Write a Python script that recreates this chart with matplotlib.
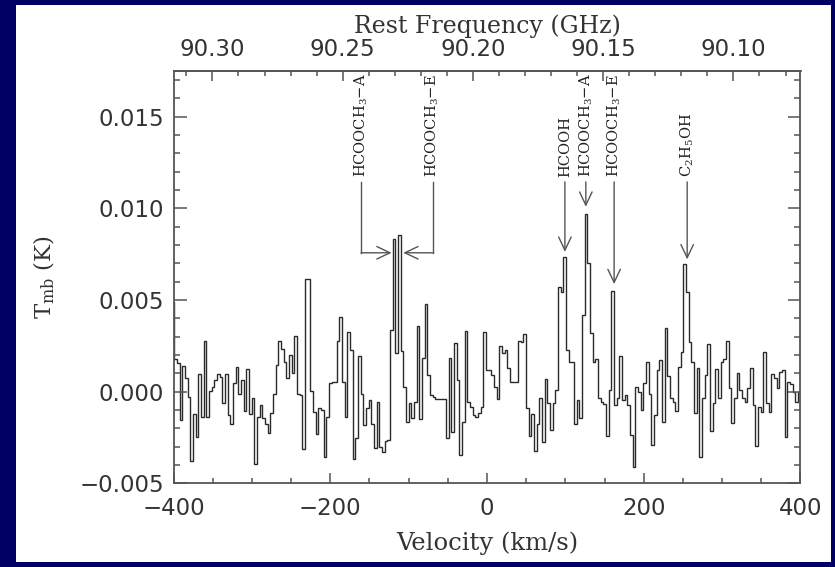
import numpy as np
import matplotlib
matplotlib.use("Agg")
import matplotlib.pyplot as plt
from matplotlib.patches import Rectangle
from matplotlib.ticker import MultipleLocator, FixedLocator, FuncFormatter

# ---- spectrum: main-beam temperature per channel (mK), uniform channels ----
v_start = -402.4      # left edge of first channel (km/s)
dv = 3.4              # channel width (km/s)
tmb_mK = [
    4.9,
    1.8, 1.55, -1.55, 1.4, 0.76, -0.27, -3.8, -1.2, -2.45, 0.95,
    -1.4, 2.76, -1.36, 0.04, 0.27, 0.64, 0.95, 0.8, -0.64, 0.95,
    -1.27, -1.78, 0.5, 1.36, -0.1, 0.64, -1.05, 1.24, -1.2, -0.36,
    -3.96, -1.4, -0.73, -1.45, -1.78, -2.27, -1.18, -0.1, 1.45, 2.76,
    2.33, 1.64, 0.73, 2.0, 1.0, 3.05, -0.1, -0.18, -3.13, 6.15,
    6.15, 0.04, -1.1, -2.33, -0.87, -1.0, -3.56, -1.4, 0.5,
    0.55, 0.55, 2.76, 4.1, 0.55, -1.36, 3.27, 2.27, -3.7, -2.55,
    1.95, -0.15, -1.8, -0.87, -0.45, -1.78, -3.05, -0.55, -3.0, -3.27,
    -2.7, -2.64, 3.36, 8.33, 2.09, 8.55, 2.2, 0.27, -1.64, -0.64,
    -1.42, -0.55, 3.6, -1.5, 1.85, 4.76, 0.9, -0.2, -0.3, -0.4,
    -0.4, -0.4, -0.4, -2.55, 1.82, -2.2, 2.64, 0.64, -3.45, -1.64,
    3.3, -0.58, -0.82, -1.27, -1.36, -1.18, -0.82, 3.27, 1.18,
    1.18, 0.9, 0.27, -0.4, 2.5, 2.1, 2.3, 1.27, 0.55, 0.55,
    0.55, 2.76, 2.7, 3.13, -0.87, -2.4, -1.24, -3.24, -1.78, -0.36,
    -2.73, 0.7, -0.64, -2.1, -0.64, 0.1, 5.73, 5.45, 7.36, 2.27,
    1.6, 1.6, -1.78, -0.45, -1.45, 4.2, 9.7, 7.0, 3.2, 1.6,
    1.8, -0.36, -0.58, -0.69, -2.4, 0.1, 5.5, -0.73, -0.36, 1.95,
    -0.45, -0.2, -0.73, -2.36, -4.1, 0.27, 0.0, -1.0, 0.45, 1.64,
    -0.1, -2.9, -1.27, 1.18, 1.73, -1.67, 3.45, 0.87, -0.36, -0.55,
    -1.05, 1.36, 2.18, 6.95, 5.42, 2.73, 1.6, -1.18, 1.3, -3.55,
    -0.33, 0.9, 2.58, -2.15, -0.6, 1.24, -0.36, 1.6, 1.8, 2.76,
    0.18, -1.73, -0.33, 1.0, 0.1, -0.36, -0.58, 0.18, 1.27, -0.73,
    -2.95, -0.82, -1.13, 2.15, -0.64, -1.13, 0.95, 0.73, 0.18, 1.09,
    1.18, -2.45, 0.55, 0.4, 0.0, -0.55, 0.0,
]

# ---- line identifications ----
pair_labels = [r"HCOOCH$_3$$-$A", r"HCOOCH$_3$$-$E"]
pair_text_v = [-160.8, -69.4]          # where the bracket legs stand (km/s)
pair_tip_v = [-121.7, -106.9]          # arrow tips (km/s)
pair_level_mK = 7.58

arrow_labels = ["HCOOH", r"HCOOCH$_3$$-$A", r"HCOOCH$_3$$-$E", r"C$_2$H$_5$OH"]
arrow_v = [99.4, 126.1, 162.2, 255.4]
arrow_tip_mK = [7.63, 10.09, 5.87, 7.22]
arrow_top_mK = 11.45
label_base_mK = 11.72

# ---- frequency axis ----
c_kms = 299792.458
f_rest = 90.1946      # GHz at v = 0
freq_major = [90.10, 90.15, 90.20, 90.25, 90.30]

plt.rcParams["mathtext.fontset"] = "dejavuserif"

ink = "#2a2a2a"
frame = "#555555"
txt = "#333333"

fig = plt.figure(figsize=(8.35, 5.67), dpi=100, facecolor="#000064")
W, H = 835, 567
panel = Rectangle((16 / W, (H - 562) / H), (831 - 16) / W, (562 - 5) / H,
                  transform=fig.transFigure, facecolor="white",
                  edgecolor="none", zorder=-10)
fig.add_artist(panel)

ax = fig.add_axes([173.5 / W, 1 - 483.3 / H, 627 / W, (483.3 - 71) / H])
ax.set_facecolor("none")

tmb = np.array(tmb_mK) * 1e-3
edges = v_start + dv * np.arange(len(tmb) + 1)
ax.stairs(tmb, edges, baseline=None, color=ink, lw=1.0)

ax.set_xlim(-400, 400)
ax.set_ylim(-0.005, 0.0175)

for s in ax.spines.values():
    s.set_color(frame)
    s.set_linewidth(1.3)

ax.xaxis.set_major_locator(MultipleLocator(200))
ax.xaxis.set_minor_locator(MultipleLocator(50))
ax.yaxis.set_major_locator(MultipleLocator(0.005))
ax.yaxis.set_minor_locator(MultipleLocator(0.001))
ax.tick_params(axis="both", which="both", direction="in", color=frame, width=1.1,
               top=False, right=True)
ax.tick_params(axis="x", which="major", length=7, pad=10)
ax.tick_params(axis="x", which="minor", length=3.5)
ax.tick_params(axis="y", which="major", length=9, pad=7)
ax.tick_params(axis="y", which="minor", length=4.5)

minus = lambda s: s.replace("-", "\u2212")
ax.xaxis.set_major_formatter(FuncFormatter(lambda v, p: minus(f"{v:.0f}")))
ax.yaxis.set_major_formatter(FuncFormatter(lambda v, p: minus(f"{v:.3f}")))
ax.tick_params(labelsize=16.5, labelcolor=txt)

ax.set_xlabel("Velocity (km/s)", fontfamily="DejaVu Serif", fontsize=17.5,
              color=txt, labelpad=8)
ax.set_ylabel(r"T$_{\rm mb}$ (K)", fontfamily="DejaVu Serif", fontsize=16.5,
              color=txt, labelpad=16)


def v2f(v):
    return f_rest * (1 - np.asarray(v) / c_kms)


def f2v(f):
    return c_kms * (1 - np.asarray(f) / f_rest)


sec = ax.secondary_xaxis("top", functions=(v2f, f2v))
sec.spines["top"].set_color(frame)
sec.spines["top"].set_linewidth(1.3)
sec.xaxis.set_major_locator(FixedLocator(freq_major))
sec.xaxis.set_minor_locator(MultipleLocator(0.01))
sec.xaxis.set_major_formatter(FuncFormatter(lambda f, p: f"{f:.2f}"))
sec.tick_params(axis="x", which="both", direction="in", color=frame, width=1.1,
                labelsize=16.5, labelcolor=txt)
sec.tick_params(axis="x", which="major", length=7, pad=7)
sec.tick_params(axis="x", which="minor", length=3.5)
sec.set_xlabel("Rest Frequency (GHz)", fontfamily="DejaVu Serif", fontsize=17,
               color=txt, labelpad=4)

# arrow style shared by all identifications
head = dict(arrowstyle="->,head_length=0.95,head_width=0.45", color=frame, lw=1.0,
            shrinkA=0, shrinkB=0, mutation_scale=10)
label_kw = dict(rotation=90, ha="center", va="bottom", fontsize=10.5,
                fontfamily="DejaVu Serif", color="#222222")

# bracket arrows for the blended methyl formate pair
for lab, vx, vt in zip(pair_labels, pair_text_v, pair_tip_v):
    ax.text(vx, label_base_mK * 1e-3, lab, **label_kw)
    ax.plot([vx, vx], [arrow_top_mK * 1e-3, pair_level_mK * 1e-3], color=frame, lw=1.0)
    ax.annotate("", xy=(vt, pair_level_mK * 1e-3), xytext=(vx, pair_level_mK * 1e-3),
                arrowprops=head)

# straight down arrows for the other lines
for lab, vx, tip in zip(arrow_labels, arrow_v, arrow_tip_mK):
    ax.text(vx, label_base_mK * 1e-3, lab, **label_kw)
    ax.annotate("", xy=(vx, tip * 1e-3), xytext=(vx, arrow_top_mK * 1e-3),
                arrowprops=head)

fig.savefig("out.png", dpi=100, facecolor=fig.get_facecolor())
